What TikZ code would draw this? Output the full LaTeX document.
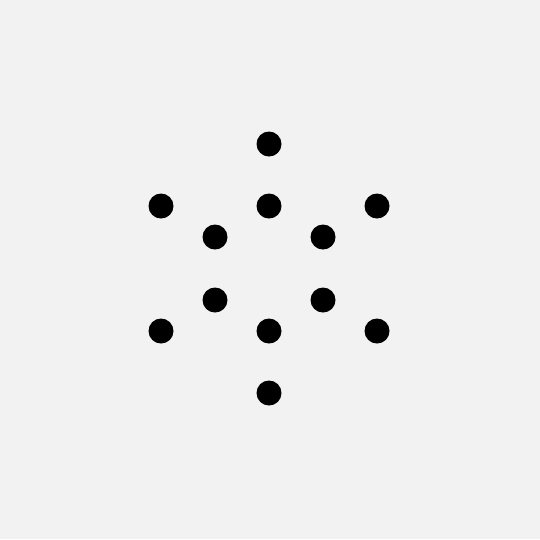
\documentclass[tikz,border=0pt]{standalone}
\begin{document}
\begin{tikzpicture}[x=0.02cm, y=-0.02cm, dot/.style={circle, fill=black, inner sep=0pt, minimum size=0.5cm}]
	\fill [black!5] (0,0) rectangle (540,539);
	% outer points
	\node [dot] (o1) at (269,144) {};
	\node [dot] (o2) at (161,206) {};
	\node [dot] (o3) at (377,206) {};
	\node [dot] (o4) at (161,331) {};
	\node [dot] (o5) at (377,331) {};
	\node [dot] (o6) at (269,393) {};
	% inner points
	\node [dot] (i1) at (269,206) {};
	\node [dot] (i2) at (215,237) {};
	\node [dot] (i3) at (323,237) {};
	\node [dot] (i4) at (215,300) {};
	\node [dot] (i5) at (323,300) {};
	\node [dot] (i6) at (269,331) {};
\end{tikzpicture}
\end{document}
